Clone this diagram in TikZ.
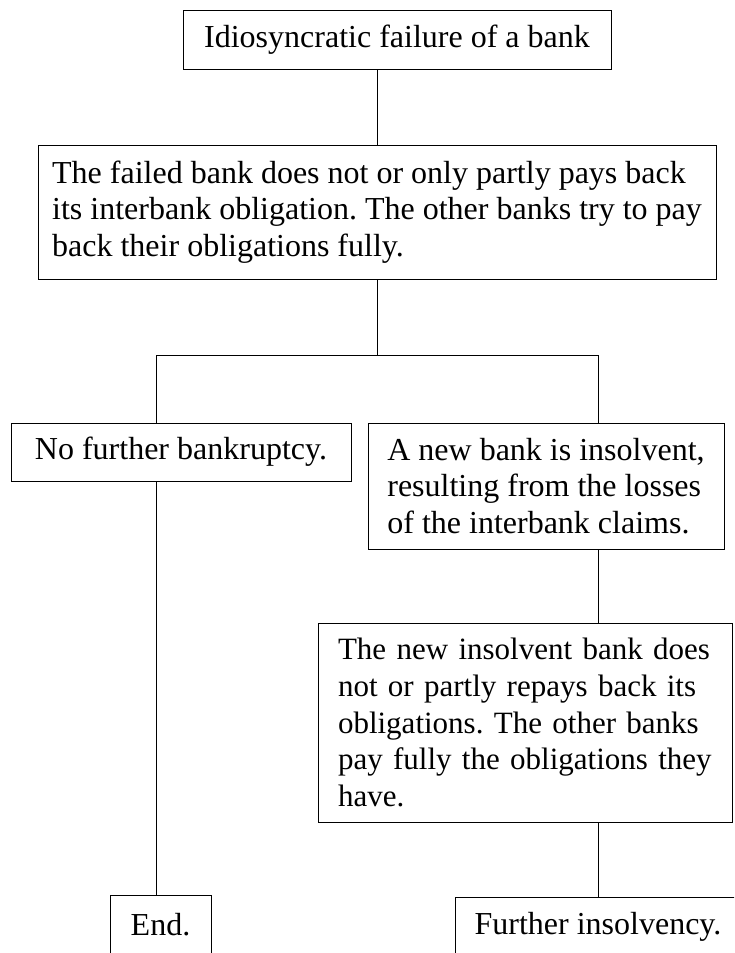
\documentclass[tikz,border=0pt]{standalone}
\usepackage{fontspec}
\setmainfont{Liberation Serif}
\frenchspacing
\begin{document}
\begin{tikzpicture}[x=1pt,y=-1pt,
  box/.style={draw, line width=0.8pt, inner ysep=0pt, font=\fontsize{32}{36.7}\selectfont\frenchspacing},
  conn/.style={draw, line width=0.8pt}]
\useasboundingbox (0,0) rectangle (734,953);
\clip (0,0) rectangle (734,953);
\node[box, minimum width=428pt, minimum height=59pt, align=center] (n1) at (397,39.5) {Idiosyncratic failure of a bank};
\node[box, minimum width=678pt, minimum height=134pt, align=left] (n2) at (377,212) {The failed bank does not or only partly pays back\\its interbank obligation. The other banks try to pay\\back their obligations fully.};
\node[box, minimum width=340pt, minimum height=58pt, align=center] (n3) at (181,452) {No further bankruptcy.};
\node[box, minimum width=356pt, minimum height=126pt, align=left] (n4) at (546,486) {A new bank is insolvent,\\resulting from the losses\\of the interbank claims.};
\node[box, font=\fontsize{31}{36.6}\selectfont\frenchspacing, text width=374pt, inner xsep=20pt, minimum height=199pt, align=left] (n5) at (525,722.5) {\makebox[374pt][s]{The new insolvent bank does}\\\makebox[374pt][s]{not or partly repays back its}\\\makebox[374pt][s]{obligations. The other banks}\\\makebox[374pt][s]{pay fully the obligations they}\\have.};
\node[box, minimum width=101pt, minimum height=60pt, align=center] (n6) at (160.5,925) {End.};
\node[box, minimum width=286pt, minimum height=60pt, align=center] (n7) at (598,927) {Further insolvency.};
\coordinate (j) at (377,355);
\coordinate (jl) at (156,355);
\coordinate (jr) at (598,355);
\draw[conn] (n1.south -| n2.north) -- (n2.north);
\draw[conn] (n2.south) -- (j);
\draw[conn] (jl) -- (jr);
\draw[conn] (jl) -- (jl |- n3.north);
\draw[conn] (jr) -- (jr |- n4.north);
\draw[conn] (n3.south -| jl) -- (n6.north -| jl);
\draw[conn] (n4.south -| n7.north) -- (n5.north -| n7.north);
\draw[conn] (n5.south -| n7.north) -- (n7.north);
\end{tikzpicture}
\end{document}
